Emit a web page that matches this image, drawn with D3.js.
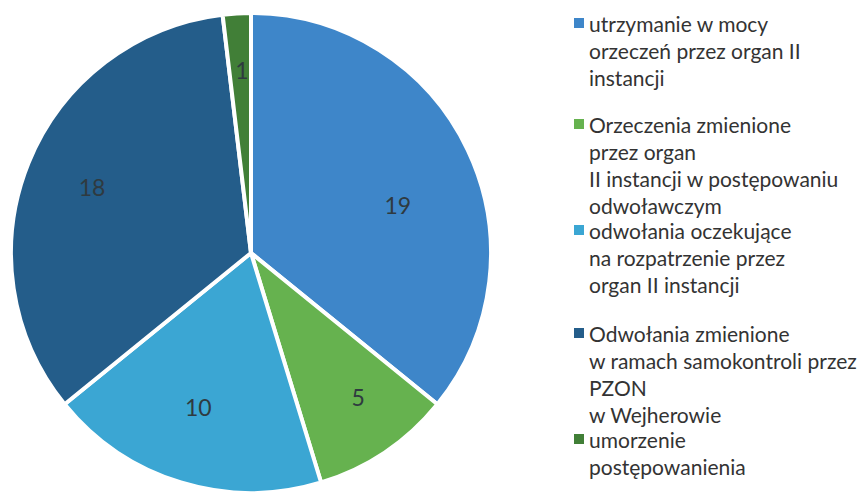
<!DOCTYPE html>
<html><head><meta charset="utf-8">
<script src="https://cdn.jsdelivr.net/npm/d3@7"></script>
<style>html,body{margin:0;padding:0;background:#fff;}svg{display:block;}</style>
</head><body>
<svg id="chart" width="862" height="493"></svg>
<script>
const categories = [
  "utrzymanie w mocy orzeczeń przez organ II instancji",
  "Orzeczenia zmienione przez organ II instancji w postępowaniu odwoławczym",
  "odwołania oczekujące na rozpatrzenie przez organ II instancji",
  "Odwołania zmienione w ramach samokontroli przez PZON w Wejherowie",
  "umorzenie postępowanienia"
];
const values = [19, 5, 10, 18, 1];
const colors = ["#3e86c9", "#66b24f", "#3ba6d3", "#245d8a", "#417f37"];
const legendLines = [
  ["utrzymanie w mocy", "orzeczeń przez organ II", "instancji"],
  ["Orzeczenia zmienione", "przez organ", "II instancji w postępowaniu", "odwoławczym"],
  ["odwołania oczekujące", "na rozpatrzenie przez", "organ II instancji"],
  ["Odwołania zmienione", "w ramach samokontroli przez", "PZON", "w Wejherowie"],
  ["umorzenie", "postępowanienia"]
];

const svg = d3.select("#chart");
const cx = 251, cy = 253, R = 240;
const font = "Lato, 'Open Sans', sans-serif";

// label placement tweaks (style, not data)
const labelNudge = [[-7, 25], [12, 3], [-3, -9], [-1, -2], [1, -13]];

const pie = d3.pie().sort(null).value(d => d)(values);
const arc = d3.arc().innerRadius(0).outerRadius(R);
const labelArc = d3.arc().innerRadius(R * 0.71).outerRadius(R * 0.71);

const g = svg.append("g").attr("transform", `translate(${cx},${cy})`);
g.selectAll("path").data(pie).join("path")
  .attr("d", arc)
  .attr("fill", (d, i) => colors[i])
  .attr("stroke", "#fff")
  .attr("stroke-width", 4)
  .attr("stroke-linejoin", "round");

g.selectAll("text.val").data(pie).join("text")
  .attr("class", "val")
  .attr("transform", (d, i) => {
    const c = labelArc.centroid(d);
    return `translate(${c[0] + labelNudge[i][0]},${c[1] + labelNudge[i][1]})`;
  })
  .attr("text-anchor", "middle")
  .attr("dominant-baseline", "central")
  .attr("font-family", font)
  .attr("font-size", 23)
  .attr("fill", "#2f3a40")
  .text(d => d.data);

// legend
const starts = [23, 124, 230, 333, 439];
const lh = 27;
const lg = svg.append("g");
legendLines.forEach((lines, i) => {
  lg.append("rect")
    .attr("x", 574).attr("y", starts[i] - 5)
    .attr("width", 10).attr("height", 10)
    .attr("fill", colors[i]);
  const t = lg.append("text")
    .attr("font-family", font)
    .attr("font-size", 21)
    .attr("fill", "#333");
  lines.forEach((ln, j) => {
    t.append("tspan")
      .attr("x", 589)
      .attr("y", starts[i] + j * lh)
      .attr("dominant-baseline", "central")
      .text(ln);
  });
});
</script>
</body></html>
